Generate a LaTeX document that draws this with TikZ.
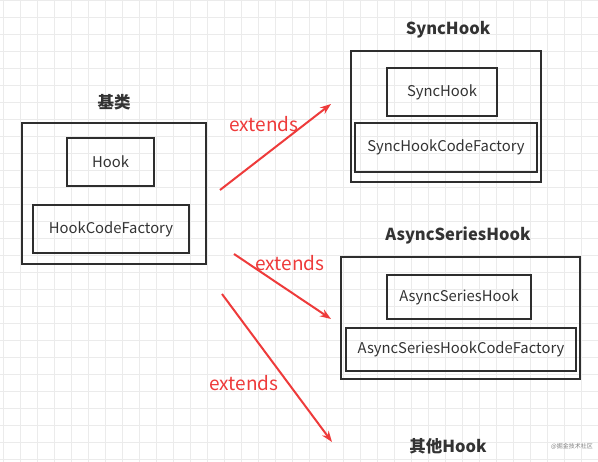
\documentclass[tikz,border=0pt]{standalone}
\usepackage{fontspec}
\setmainfont{Noto Sans CJK SC}
\usetikzlibrary{arrows.meta}
\definecolor{boxline}{HTML}{2E2E2E}
\definecolor{txt}{HTML}{333333}
\definecolor{extred}{HTML}{EE3B3B}
\definecolor{gridc}{HTML}{EBEBEB}
\tikzset{
  box/.style={draw=boxline, line width=1.9pt, inner sep=0pt, text=txt, font=\fontsize{14.8}{16}\selectfont},
  outerbox/.style={draw=boxline, line width=1.9pt, inner sep=0pt},
  title/.style={text=txt, font=\fontsize{16.5}{18}\selectfont\bfseries, inner sep=0pt},
  extlabel/.style={text=extred, font=\fontsize{19}{21}\selectfont, inner sep=0pt},
  extarrow/.style={draw=extred, line width=2pt, -{Stealth[length=11pt,width=8pt]}},
}
\begin{document}
\begin{tikzpicture}[x=1pt,y=-1pt]
\useasboundingbox (0,0) rectangle (598,462);
\fill[white] (0,0) rectangle (598,462);
% grid
\foreach \gx in {3,20,...,598} { \draw[gridc, line width=0.5pt] (\gx,0) -- (\gx,462); }
\foreach \gy in {0,17,...,462} { \draw[gridc, line width=0.5pt] (0,\gy) -- (598,\gy); }

% base class
\node[title] (tbase) at (114,102) {基类};
\node[outerbox, minimum width=184pt, minimum height=141pt] (base) at (114,193.5) {};
\node[box, minimum width=87pt, minimum height=48pt] (hook) at (110.5,162) {Hook};
\node[box, minimum width=156pt, minimum height=48pt] (hcf) at (111,229) {HookCodeFactory};

% SyncHook
\node[title] (tsync) at (448,30) {SyncHook};
\node[outerbox, minimum width=190pt, minimum height=131pt] (sync) at (446,116.5) {};
\node[box, minimum width=110pt, minimum height=48pt] (synci) at (442,92) {SyncHook};
\node[box, minimum width=182pt, minimum height=49pt] (scf) at (446,147.5) {SyncHookCodeFactory};

% AsyncSeriesHook
\node[title] (tasync) at (458,235) {AsyncSeriesHook};
\node[outerbox, minimum width=239pt, minimum height=122pt] (async) at (460.5,318) {};
\node[box, minimum width=144pt, minimum height=44pt] (asynci) at (459,297) {AsyncSeriesHook};
\node[box, minimum width=230pt, minimum height=43pt] (acf) at (461,349.5) {AsyncSeriesHookCodeFactory};

% other
\node[title] (tother) at (448,446) {其他Hook};

% arrows
\coordinate (s1) at (220,190);
\coordinate (e1) at (331,104);
\coordinate (s2) at (234,254);
\coordinate (e2) at (331,319);
\coordinate (s3) at (222,294);
\coordinate (e3) at (332,442);
\draw[extarrow] (s1) -- (e1);
\draw[extarrow] (s2) -- (e2);
\draw[extarrow] (s3) -- (e3);
\node[extlabel] (x1) at (264,124) {extends};
\node[extlabel] (x2) at (290,263) {extends};
\node[extlabel] (x3) at (244,383) {extends};

% watermark
\node[text=gray, font=\fontsize{6}{7}\selectfont, inner sep=0pt] (wm) at (572,446) {@掘金技术社区};
\end{tikzpicture}
\end{document}
